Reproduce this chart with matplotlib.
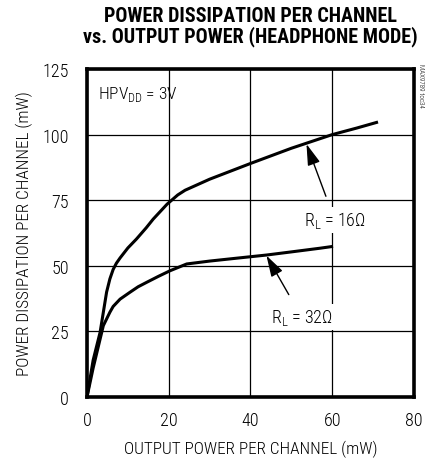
import numpy as np
import matplotlib.pyplot as plt

plt.rcParams['font.family'] = ['Roboto Condensed', 'Liberation Sans Narrow', 'Archivo Narrow',
                               'PT Sans Narrow', 'Arimo', 'DejaVu Sans']
plt.rcParams['font.weight'] = 'light'
plt.rcParams['axes.labelweight'] = 'light'
plt.rcParams['mathtext.fontset'] = 'custom'
plt.rcParams['mathtext.rm'] = 'Roboto Condensed:light'

# Power dissipation vs output power
p_out_16 = [0, 1.5, 3.2, 4.8, 5.6, 6.4, 7.2, 8.1, 10.0, 12.1, 14.5, 16.2, 19.6, 22.2, 24.0, 30.0, 40.0, 50.0, 60.0, 66.0, 71.2]
p_diss_16 = [0, 14.0, 24.6, 40.0, 45.0, 48.6, 51.0, 53.0, 56.8, 60.2, 64.5, 67.8, 73.5, 77.0, 78.8, 83.0, 89.0, 94.8, 100.0, 102.5, 104.8]

p_out_32 = [0, 1.5, 4.0, 5.6, 6.4, 8.1, 10.5, 12.5, 14.6, 17.5, 20.3, 22.5, 24.4, 30.0, 36.0, 43.9, 50.0, 57.0, 60.2]
p_diss_32 = [0, 11.0, 27.2, 32.3, 34.5, 37.3, 39.9, 42.0, 43.7, 46.0, 48.1, 49.5, 50.7, 51.8, 52.8, 54.1, 55.3, 56.7, 57.4]

x_ticks = [0, 20, 40, 60, 80]
y_ticks = [0, 25, 50, 75, 100, 125]

fig = plt.figure(figsize=(4.26, 4.6), dpi=100)
ax = fig.add_axes([0.2042, 0.1348, 0.7676, 0.713])

ax.plot(p_out_16, p_diss_16, color='black', lw=2.2, solid_capstyle='butt', zorder=3)
ax.plot(p_out_32, p_diss_32, color='black', lw=2.2, solid_capstyle='butt', zorder=3)

ax.set_xlim(0, 80)
ax.set_ylim(0, 125)
ax.set_xticks(x_ticks)
ax.set_yticks(y_ticks)
ax.tick_params(length=0, labelsize=13)
ax.tick_params(axis='y', pad=13)
ax.tick_params(axis='x', pad=10)
ax.grid(True, color='black', lw=0.9)
for s in ax.spines.values():
    s.set_linewidth(2.6)

ax.set_xlabel('OUTPUT POWER PER CHANNEL (mW)', fontsize=12.3, fontweight='light', labelpad=8)
ax.set_ylabel('POWER DISSIPATION PER CHANNEL (mW)', fontsize=12.3, fontweight='light', labelpad=7)

fig.text(0.587, 0.985, 'POWER DISSIPATION PER CHANNEL\nvs. OUTPUT POWER (HEADPHONE MODE)',
         ha='center', va='top', fontsize=14.5, fontweight='black', linespacing=1.05)

ax.text(2.8, 115.5, r'HPV$_{\mathrm{DD}}$ = 3V', fontsize=12.5, va='center', ha='left')

ax.annotate(r'R$_{\mathrm{L}}$ = 16$\Omega$', xy=(53.7, 96.4), xytext=(60.6, 67.5),
            fontsize=13, ha='center', va='center', zorder=4,
            bbox=dict(boxstyle='square,pad=0.15', fc='white', ec='none'),
            arrowprops=dict(arrowstyle='-|>,head_length=1.0,head_width=0.3', color='black',
                            lw=1.0, shrinkA=8, shrinkB=0))
ax.annotate(r'R$_{\mathrm{L}}$ = 32$\Omega$', xy=(43.9, 53.9), xytext=(52.5, 30.5),
            fontsize=13, ha='center', va='center', zorder=4,
            bbox=dict(boxstyle='square,pad=0.15', fc='white', ec='none'),
            arrowprops=dict(arrowstyle='-|>,head_length=1.0,head_width=0.3', color='black',
                            lw=1.0, shrinkA=8, shrinkB=0))

fig.text(0.987, 0.86, 'MAX9789 toc34', rotation=-90, fontsize=5, ha='center', va='top')

fig.savefig('out.png', dpi=100)
